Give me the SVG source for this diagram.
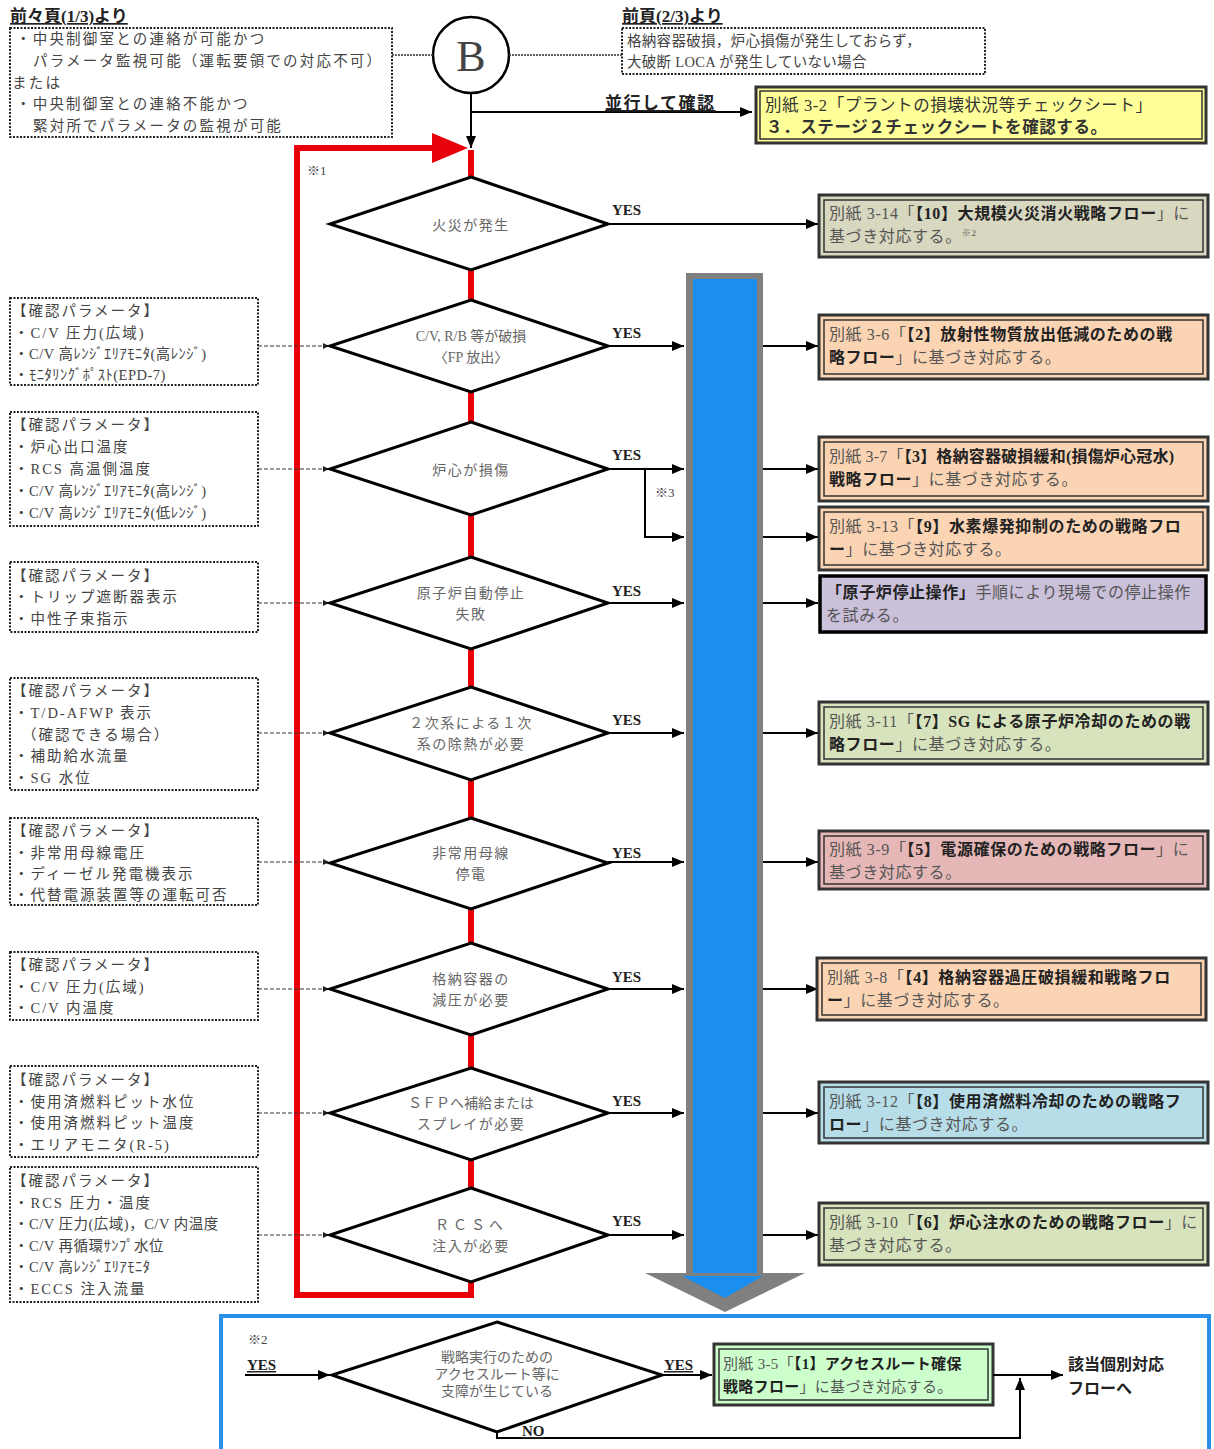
<svg xmlns="http://www.w3.org/2000/svg" width="1214" height="1449" viewBox="0 0 1214 1449">
<defs>
<marker id="ah" markerUnits="userSpaceOnUse" markerWidth="12" markerHeight="10" refX="12" refY="5" orient="auto"><path d="M0,0 L12,5 L0,10 z" fill="#000"/></marker>
<marker id="ahs" markerUnits="userSpaceOnUse" markerWidth="6" markerHeight="6" refX="6" refY="3" orient="auto"><path d="M0,0 L6,3 L0,6 z" fill="#222"/></marker>
<style>
text{font-family:"Liberation Serif","Noto Sans CJK JP",serif;fill:#444;}
.p{font-size:14.5px;letter-spacing:2px;}
.t{font-size:14.5px;letter-spacing:2.2px;}
.d{font-size:14px;letter-spacing:1.5px;fill:#666;}
.r{font-size:16px;letter-spacing:0.6px;fill:#555;}
.b{font-weight:bold;fill:#222;}
.yes{font-size:15px;font-weight:bold;fill:#222;}
.dot{fill:#fff;stroke:#222;stroke-width:2;stroke-dasharray:2 1.5;}
.dia{fill:#fff;stroke:#000;stroke-width:3;}
.ln{stroke:#000;stroke-width:2;fill:none;}
.pc{stroke:#333;stroke-width:1;stroke-dasharray:4 2;fill:none;}
.red{stroke:#e8000b;stroke-width:6;fill:none;}
.bo{stroke:#333;stroke-width:3;}
.bi{fill:none;stroke:#333;stroke-width:1.5;}
</style>
</defs>
<rect width="1214" height="1449" fill="#fff"/>

<!-- top headers -->
<g id="hdr1">
<text x="10" y="22" class="b" font-size="17" text-decoration="underline">前々頁(1/3)より</text>
<rect class="dot" x="10" y="28" width="382" height="109"/>
<text class="t" x="16" y="44">・中央制御室との連絡が可能かつ</text>
<text class="t" x="33" y="66">パラメータ監視可能（運転要領での対応不可）</text>
<text class="t" x="12" y="88">または</text>
<text class="t" x="16" y="109">・中央制御室との連絡不能かつ</text>
<text class="t" x="33" y="131">緊対所でパラメータの監視が可能</text>
</g>
<g id="hdr2">
<text x="622" y="22" class="b" font-size="17" text-decoration="underline">前頁(2/3)より</text>
<rect class="dot" x="622" y="28" width="363" height="46"/>
<text class="p" x="627" y="46" style="letter-spacing:0.3px">格納容器破損，炉心損傷が発生しておらず，</text>
<text class="p" x="627" y="67" style="letter-spacing:0.3px">大破断 LOCA が発生していない場合</text>
</g>
<g id="nodeB">
<circle cx="471" cy="55" r="38" fill="#fff" stroke="#000" stroke-width="2.5"/>
<text x="471" y="71" text-anchor="middle" font-size="44" fill="#111" style="font-family:'Liberation Serif',serif">B</text>
</g>
<g id="check">
<rect class="bo" x="756" y="87" width="450" height="56" fill="#ffff99"/>
<rect class="bi" x="760" y="91" width="442" height="48"/>
<text class="r" x="765" y="111" style="fill:#333;font-size:16.5px">別紙 3-2「プラントの損壊状況等チェックシート」</text>
<text class="r" x="766" y="133" style="fill:#333;font-size:16.5px;font-weight:bold">３．ステージ２チェックシートを確認する。</text>
</g>

<!-- connectors -->
<g id="connectors">
<line x1="392" y1="55" x2="433" y2="55" stroke="#333" stroke-width="1.5" stroke-dasharray="2 1"/>
<line x1="509" y1="55" x2="622" y2="55" stroke="#333" stroke-width="1.5" stroke-dasharray="2 1"/>
<line class="ln" x1="471" y1="93" x2="471" y2="148" marker-end="url(#ah)"/>
<line class="ln" x1="471" y1="112" x2="752" y2="112" marker-end="url(#ah)"/>
<text x="605" y="109" class="b" font-size="17" letter-spacing="1.5" text-decoration="underline">並行して確認</text>

<!-- red loop -->
<path class="red" d="M471,1282 L471,1295 L297,1295 L297,148 L436,148"/>
<polygon points="432,133 468,148 432,163" fill="#e8000b"/>
<g stroke="#e8000b" stroke-width="6">
<line x1="471" y1="150" x2="471" y2="177"/>
<line x1="471" y1="270" x2="471" y2="300"/>
<line x1="471" y1="392" x2="471" y2="422"/>
<line x1="471" y1="515" x2="471" y2="557"/>
<line x1="471" y1="649" x2="471" y2="687"/>
<line x1="471" y1="780" x2="471" y2="818"/>
<line x1="471" y1="909" x2="471" y2="943"/>
<line x1="471" y1="1035" x2="471" y2="1068"/>
<line x1="471" y1="1160" x2="471" y2="1188"/>
</g>
<text x="307" y="175" font-size="13" fill="#444">※1</text>

<!-- yes arrows -->
<line class="ln" x1="608" y1="224" x2="818" y2="224" marker-end="url(#ah)"/>
<line class="ln" x1="608" y1="346" x2="684" y2="346" marker-end="url(#ah)"/>
<line class="ln" x1="608" y1="469" x2="684" y2="469" marker-end="url(#ah)"/>
<path class="ln" d="M645,469 L645,537 L684,537" marker-end="url(#ah)"/>
<text x="655" y="497" font-size="13" fill="#444">※3</text>
<line class="ln" x1="608" y1="603" x2="684" y2="603" marker-end="url(#ah)"/>
<line class="ln" x1="608" y1="733" x2="684" y2="733" marker-end="url(#ah)"/>
<line class="ln" x1="608" y1="862" x2="684" y2="862" marker-end="url(#ah)"/>
<line class="ln" x1="608" y1="989" x2="684" y2="989" marker-end="url(#ah)"/>
<line class="ln" x1="608" y1="1113" x2="684" y2="1113" marker-end="url(#ah)"/>
<line class="ln" x1="608" y1="1235" x2="684" y2="1235" marker-end="url(#ah)"/>
<g>
<text class="yes" x="612" y="215">YES</text>
<text class="yes" x="612" y="338">YES</text>
<text class="yes" x="612" y="460">YES</text>
<text class="yes" x="612" y="596">YES</text>
<text class="yes" x="612" y="725">YES</text>
<text class="yes" x="612" y="858">YES</text>
<text class="yes" x="612" y="982">YES</text>
<text class="yes" x="612" y="1106">YES</text>
<text class="yes" x="612" y="1226">YES</text>
</g>

<!-- big blue arrow -->
<rect x="686" y="273" width="77" height="1003" fill="#808080"/>
<rect x="693" y="279" width="64" height="1000" fill="#1a8fef"/>
<polygon points="645,1273 805,1273 725,1312" fill="#808080"/>
<polygon points="682,1276 763,1276 725,1298" fill="#1a8fef"/>

<!-- arrows to boxes -->
<line class="ln" x1="763" y1="346" x2="818" y2="346" marker-end="url(#ah)"/>
<line class="ln" x1="763" y1="469" x2="818" y2="469" marker-end="url(#ah)"/>
<line class="ln" x1="763" y1="537" x2="818" y2="537" marker-end="url(#ah)"/>
<line class="ln" x1="763" y1="603" x2="818" y2="603" marker-end="url(#ah)"/>
<line class="ln" x1="763" y1="733" x2="818" y2="733" marker-end="url(#ah)"/>
<line class="ln" x1="763" y1="862" x2="818" y2="862" marker-end="url(#ah)"/>
<line class="ln" x1="763" y1="989" x2="818" y2="989" marker-end="url(#ah)"/>
<line class="ln" x1="763" y1="1113" x2="818" y2="1113" marker-end="url(#ah)"/>
<line class="ln" x1="763" y1="1235" x2="818" y2="1235" marker-end="url(#ah)"/>

<!-- param connectors -->
<line class="pc" x1="258" y1="346" x2="329" y2="346" marker-end="url(#ahs)"/>
<line class="pc" x1="258" y1="469" x2="329" y2="469" marker-end="url(#ahs)"/>
<line class="pc" x1="258" y1="603" x2="329" y2="603" marker-end="url(#ahs)"/>
<line class="pc" x1="258" y1="733" x2="329" y2="733" marker-end="url(#ahs)"/>
<line class="pc" x1="258" y1="862" x2="329" y2="862" marker-end="url(#ahs)"/>
<line class="pc" x1="258" y1="989" x2="329" y2="989" marker-end="url(#ahs)"/>
<line class="pc" x1="258" y1="1113" x2="329" y2="1113" marker-end="url(#ahs)"/>
<line class="pc" x1="258" y1="1235" x2="329" y2="1235" marker-end="url(#ahs)"/>
</g>

<!-- diamonds -->
<g id="d1"><polygon class="dia" points="471,177 608,224 471,270 330,224"/><text class="d" x="471" y="230" text-anchor="middle">火災が発生</text></g>
<g id="d2"><polygon class="dia" points="471,300 608,346 471,392 330,346"/><text class="d" x="471" y="341" text-anchor="middle" style="letter-spacing:0">C/V, R/B 等が破損</text><text class="d" x="471" y="362" text-anchor="middle" style="letter-spacing:0">〈FP 放出〉</text></g>
<g id="d3"><polygon class="dia" points="471,422 608,469 471,515 330,469"/><text class="d" x="471" y="475" text-anchor="middle">炉心が損傷</text></g>
<g id="d4"><polygon class="dia" points="471,557 608,603 471,649 330,603"/><text class="d" x="471" y="598" text-anchor="middle">原子炉自動停止</text><text class="d" x="471" y="619" text-anchor="middle">失敗</text></g>
<g id="d5"><polygon class="dia" points="471,687 608,733 471,780 330,733"/><text class="d" x="471" y="728" text-anchor="middle">２次系による１次</text><text class="d" x="471" y="749" text-anchor="middle">系の除熱が必要</text></g>
<g id="d6"><polygon class="dia" points="471,818 608,863 471,909 330,863"/><text class="d" x="471" y="858" text-anchor="middle">非常用母線</text><text class="d" x="471" y="879" text-anchor="middle">停電</text></g>
<g id="d7"><polygon class="dia" points="471,943 608,989 471,1035 330,989"/><text class="d" x="471" y="984" text-anchor="middle">格納容器の</text><text class="d" x="471" y="1005" text-anchor="middle">減圧が必要</text></g>
<g id="d8"><polygon class="dia" points="471,1068 608,1113 471,1160 330,1113"/><text class="d" x="471" y="1108" text-anchor="middle" style="letter-spacing:0">ＳＦＰへ補給または</text><text class="d" x="471" y="1129" text-anchor="middle">スプレイが必要</text></g>
<g id="d9"><polygon class="dia" points="471,1188 608,1235 471,1282 330,1235"/><text class="d" x="471" y="1230" text-anchor="middle" style="letter-spacing:4px">ＲＣＳへ</text><text class="d" x="471" y="1251" text-anchor="middle">注入が必要</text></g>

<!-- parameter boxes -->
<g id="p1"><rect class="dot" x="10" y="298" width="248" height="87"/>
<text class="p" x="12" y="316">【確認パラメータ】</text><text class="p" x="14" y="338">・C/V 圧力(広域)</text><text class="p" x="14" y="359" style="letter-spacing:0.5px">・C/V 高ﾚﾝｼﾞｴﾘｱﾓﾆﾀ(高ﾚﾝｼﾞ)</text><text class="p" x="14" y="380" style="letter-spacing:0.5px">・ﾓﾆﾀﾘﾝｸﾞﾎﾟｽﾄ(EPD-7)</text></g>
<g id="p2"><rect class="dot" x="10" y="412" width="248" height="114"/>
<text class="p" x="12" y="430">【確認パラメータ】</text><text class="p" x="14" y="452">・炉心出口温度</text><text class="p" x="14" y="474">・RCS 高温側温度</text><text class="p" x="14" y="496" style="letter-spacing:0.5px">・C/V 高ﾚﾝｼﾞｴﾘｱﾓﾆﾀ(高ﾚﾝｼﾞ)</text><text class="p" x="14" y="518" style="letter-spacing:0.5px">・C/V 高ﾚﾝｼﾞｴﾘｱﾓﾆﾀ(低ﾚﾝｼﾞ)</text></g>
<g id="p3"><rect class="dot" x="10" y="562" width="248" height="70"/>
<text class="p" x="12" y="581">【確認パラメータ】</text><text class="p" x="14" y="602">・トリップ遮断器表示</text><text class="p" x="14" y="624">・中性子束指示</text></g>
<g id="p4"><rect class="dot" x="10" y="678" width="248" height="112"/>
<text class="p" x="12" y="696">【確認パラメータ】</text><text class="p" x="14" y="718">・T/D-AFWP 表示</text><text class="p" x="22" y="740">（確認できる場合）</text><text class="p" x="14" y="761">・補助給水流量</text><text class="p" x="14" y="783">・SG 水位</text></g>
<g id="p5"><rect class="dot" x="10" y="818" width="248" height="87"/>
<text class="p" x="12" y="836">【確認パラメータ】</text><text class="p" x="14" y="858">・非常用母線電圧</text><text class="p" x="14" y="879">・ディーゼル発電機表示</text><text class="p" x="14" y="900">・代替電源装置等の運転可否</text></g>
<g id="p6"><rect class="dot" x="10" y="952" width="248" height="68"/>
<text class="p" x="12" y="970">【確認パラメータ】</text><text class="p" x="14" y="992">・C/V 圧力(広域)</text><text class="p" x="14" y="1013">・C/V 内温度</text></g>
<g id="p7"><rect class="dot" x="10" y="1066" width="248" height="91"/>
<text class="p" x="12" y="1085">【確認パラメータ】</text><text class="p" x="14" y="1107">・使用済燃料ピット水位</text><text class="p" x="14" y="1128">・使用済燃料ピット温度</text><text class="p" x="14" y="1150">・エリアモニタ(R-5)</text></g>
<g id="p8"><rect class="dot" x="10" y="1167" width="248" height="135"/>
<text class="p" x="12" y="1186">【確認パラメータ】</text><text class="p" x="14" y="1208">・RCS 圧力・温度</text><text class="p" x="14" y="1229" style="letter-spacing:0.5px">・C/V 圧力(広域)，C/V 内温度</text><text class="p" x="14" y="1251" style="letter-spacing:0.5px">・C/V 再循環ｻﾝﾌﾟ水位</text><text class="p" x="14" y="1272" style="letter-spacing:0.5px">・C/V 高ﾚﾝｼﾞｴﾘｱﾓﾆﾀ</text><text class="p" x="14" y="1294">・ECCS 注入流量</text></g>

<!-- result boxes -->
<g id="r1"><rect class="bo" x="819" y="195" width="389" height="62" fill="#d8d7c0"/><rect class="bi" x="824" y="200" width="379" height="52"/>
<text class="r" x="829" y="219">別紙 3-14「<tspan class="b">【10】大規模火災消火戦略フロー</tspan>」に</text><text class="r" x="829" y="242">基づき対応する。<tspan font-size="9" dy="-6">※2</tspan></text></g>
<g id="r2"><rect class="bo" x="819" y="315" width="389" height="64" fill="#fbd4b4"/><rect class="bi" x="824" y="320" width="379" height="54"/>
<text class="r" x="829" y="340">別紙 3-6「<tspan class="b">【2】放射性物質放出低減のための戦</tspan></text><text class="r" x="829" y="363"><tspan class="b">略フロー</tspan>」に基づき対応する。</text></g>
<g id="r3"><rect class="bo" x="819" y="437" width="389" height="64" fill="#fbd4b4"/><rect class="bi" x="824" y="442" width="379" height="54"/>
<text class="r" x="829" y="462" style="letter-spacing:0.2px">別紙 3-7「<tspan class="b">【3】格納容器破損緩和(損傷炉心冠水)</tspan></text><text class="r" x="829" y="485"><tspan class="b">戦略フロー</tspan>」に基づき対応する。</text></g>
<g id="r4"><rect class="bo" x="819" y="507" width="389" height="63" fill="#fbd4b4"/><rect class="bi" x="824" y="512" width="379" height="53"/>
<text class="r" x="829" y="532">別紙 3-13「<tspan class="b">【9】水素爆発抑制のための戦略フロ</tspan></text><text class="r" x="829" y="555"><tspan class="b">ー</tspan>」に基づき対応する。</text></g>
<g id="r5"><rect x="820" y="576" width="386" height="56" fill="#cbc0da" stroke="#000" stroke-width="3.5"/>
<text class="r" x="826" y="598"><tspan class="b">「原子炉停止操作」</tspan>手順により現場での停止操作</text><text class="r" x="826" y="621">を試みる。</text></g>
<g id="r6"><rect class="bo" x="819" y="702" width="389" height="62" fill="#d7e3bc"/><rect class="bi" x="824" y="707" width="379" height="52"/>
<text class="r" x="829" y="727">別紙 3-11「<tspan class="b">【7】SG による原子炉冷却のための戦</tspan></text><text class="r" x="829" y="750"><tspan class="b">略フロー</tspan>」に基づき対応する。</text></g>
<g id="r7"><rect class="bo" x="819" y="831" width="389" height="58" fill="#e5b8b7"/><rect class="bi" x="824" y="836" width="379" height="48"/>
<text class="r" x="829" y="855">別紙 3-9「<tspan class="b">【5】電源確保のための戦略フロー</tspan>」に</text><text class="r" x="829" y="878">基づき対応する。</text></g>
<g id="r8"><rect class="bo" x="817" y="958" width="389" height="62" fill="#fbd4b4"/><rect class="bi" x="822" y="963" width="379" height="52"/>
<text class="r" x="827" y="983">別紙 3-8「<tspan class="b">【4】格納容器過圧破損緩和戦略フロ</tspan></text><text class="r" x="827" y="1006"><tspan class="b">ー</tspan>」に基づき対応する。</text></g>
<g id="r9"><rect class="bo" x="819" y="1082" width="389" height="61" fill="#b7dde8"/><rect class="bi" x="824" y="1087" width="379" height="51"/>
<text class="r" x="829" y="1107">別紙 3-12「<tspan class="b">【8】使用済燃料冷却のための戦略フ</tspan></text><text class="r" x="829" y="1130"><tspan class="b">ロー</tspan>」に基づき対応する。</text></g>
<g id="r10"><rect class="bo" x="819" y="1203" width="389" height="62" fill="#d7e3bc"/><rect class="bi" x="824" y="1208" width="379" height="52"/>
<text class="r" x="829" y="1228">別紙 3-10「<tspan class="b">【6】炉心注水のための戦略フロー</tspan>」に</text><text class="r" x="829" y="1251">基づき対応する。</text></g>

<!-- bottom frame -->
<g id="bottom">
<rect x="221" y="1316" width="988" height="135" fill="#fff" stroke="#2a8fe8" stroke-width="4"/>
<text x="248" y="1344" font-size="13" fill="#444">※2</text>
<text class="yes" x="247" y="1370" text-decoration="underline">YES</text>
<line class="ln" x1="245" y1="1375" x2="330" y2="1375" marker-end="url(#ah)"/>
<g id="d10"><polygon class="dia" points="497,1322 662,1375 497,1432 332,1375"/>
<text class="d" x="497" y="1362" text-anchor="middle" style="letter-spacing:0">戦略実行のための</text><text class="d" x="497" y="1379" text-anchor="middle" style="letter-spacing:0">アクセスルート等に</text><text class="d" x="497" y="1396" text-anchor="middle" style="letter-spacing:0">支障が生じている</text></g>
<text class="yes" x="664" y="1370" text-decoration="underline">YES</text>
<line class="ln" x1="662" y1="1375" x2="712" y2="1375" marker-end="url(#ah)"/>
<g id="r11"><rect class="bo" x="714" y="1344" width="279" height="61" fill="#ccffcc"/><rect class="bi" x="719" y="1349" width="269" height="51"/>
<text class="r" x="723" y="1369" style="font-size:15px;letter-spacing:0.3px">別紙 3-5「<tspan class="b">【1】アクセスルート確保</tspan></text><text class="r" x="723" y="1392" style="font-size:15px;letter-spacing:0.3px"><tspan class="b">戦略フロー</tspan>」に基づき対応する。</text></g>
<line class="ln" x1="993" y1="1375" x2="1063" y2="1375" marker-end="url(#ah)"/>
<path class="ln" d="M497,1432 L497,1438 L1020,1438 L1020,1378" marker-end="url(#ah)"/>
<text class="yes" x="522" y="1436" text-decoration="underline">NO</text>
<text x="1068" y="1370" class="b" font-size="16" fill="#333">該当個別対応</text>
<text x="1068" y="1394" class="b" font-size="16" fill="#333">フローへ</text>
</g>
</svg>
